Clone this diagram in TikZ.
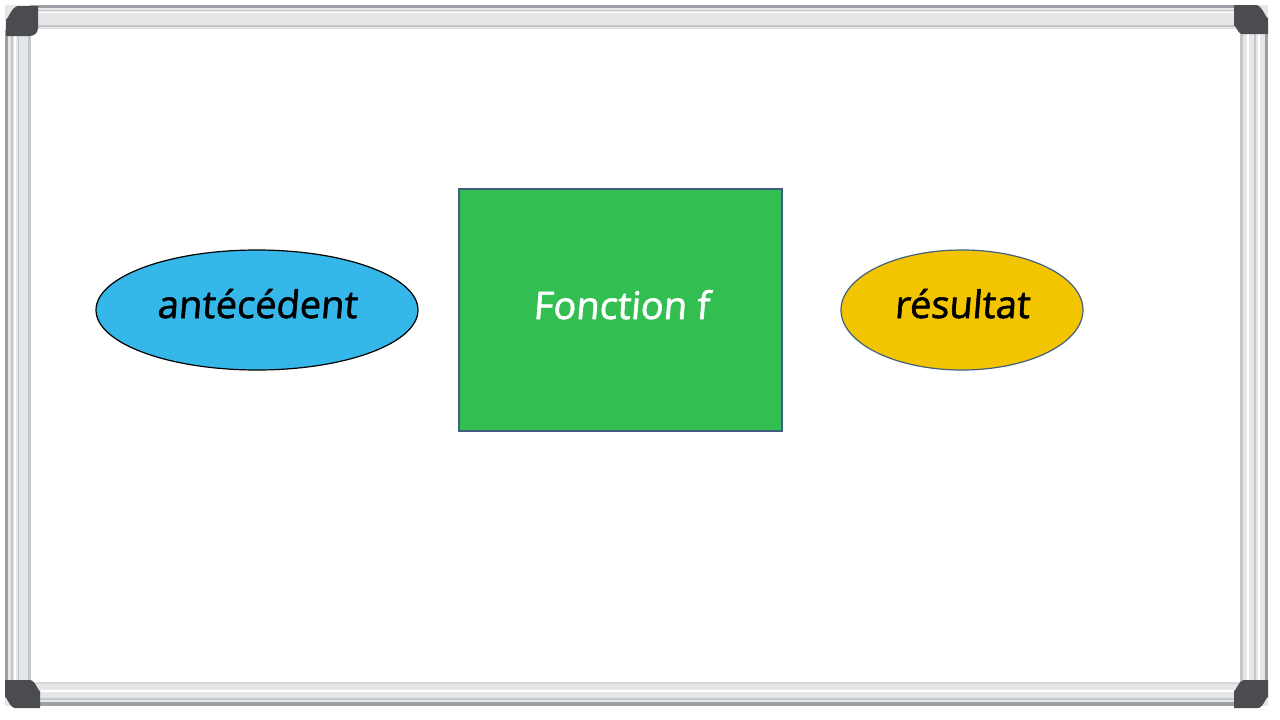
\documentclass[tikz,border=0pt]{standalone}
\usepackage{fontspec}
\setmainfont{Open Sans}
\newfontfamily\handfont[FakeBold=1.6,FakeSlant=0.08]{Open Sans}
\usetikzlibrary{shapes.geometric}
\definecolor{skyb}{HTML}{36B7E9}
\definecolor{fgreen}{HTML}{33BE52}
\definecolor{gold}{HTML}{F2C500}
\definecolor{edgeb}{HTML}{41607F}
\definecolor{barlight}{HTML}{E4E6E8}
\definecolor{barmid}{HTML}{C4C7CA}
\definecolor{bardark}{HTML}{9C9FA3}
\definecolor{capc}{HTML}{4A4C4F}
\tikzset{
  lbl/.style={font=\handfont\fontsize{38}{42}\selectfont, inner sep=0pt},
  blob/.style={ellipse, inner sep=0pt, line width=1.2pt},
  hbar/.style={fill=barlight, draw=none},
  capshape/.style={fill=capc, draw=none}
}
\begin{document}
\begin{tikzpicture}[x=1pt,y=-1pt]
\useasboundingbox (0,0) rectangle (1280,720);
\fill[white] (0,0) rectangle (1280,720);
% frame bars
\fill[hbar] (5,5) rectangle (1268,29);
\fill[hbar] (5,682) rectangle (1268,706);
\fill[hbar] (5,5) rectangle (31,706);
\fill[hbar] (1240,5) rectangle (1268,706);
% top bar detail
\fill[bardark] (30,5) rectangle (1240,8);
\fill[barmid] (30,10) rectangle (1240,11);
\fill[white] (30,12) rectangle (1240,13);
\fill[barmid] (30,25) rectangle (1240,27);
\fill[barmid!60] (30,28) rectangle (1240,29);
% bottom bar detail
\fill[barmid!70] (30,682) rectangle (1240,684);
\fill[white] (30,690) rectangle (1240,692);
\fill[barmid] (30,698) rectangle (1240,700);
\fill[bardark] (30,702) rectangle (1240,706);
% left bar detail
\fill[bardark] (5,30) rectangle (8,682);
\fill[barmid] (11,30) rectangle (13,682);
\fill[white] (14,30) rectangle (16,682);
\fill[barmid] (18,30) rectangle (19,682);
\fill[barmid] (28,30) rectangle (31,682);
% right bar detail
\fill[barmid] (1240,30) rectangle (1243,682);
\fill[white] (1247,30) rectangle (1249,682);
\fill[barmid] (1254,30) rectangle (1256,682);
\fill[white] (1258,30) rectangle (1260,682);
\fill[bardark] (1265,30) rectangle (1268,682);
% corner caps
\fill[capshape] (6,36) -- (6,18) to[out=-90,in=180] (18,6) -- (38,6) -- (38,28) to[out=-90,in=0] (30,36) -- cycle;
\fill[capshape] (1268,34) -- (1268,17) to[out=-90,in=0] (1256,5) -- (1234,5) -- (1234,26) to[out=90,in=180] (1242,34) -- cycle;
\fill[capshape] (5,680) -- (5,698) to[out=90,in=180] (15,708) -- (40,708) -- (40,690) to[out=-90,in=0] (30,680) -- cycle;
\fill[capshape] (1268,680) -- (1268,698) to[out=90,in=0] (1258,708) -- (1234,708) -- (1234,690) to[out=-90,in=180] (1244,680) -- cycle;
% diagram
\node[blob, fill=skyb, draw=black, minimum width=322pt, minimum height=120pt] (ante) at (257,310) {};
\node[lbl, anchor=base] (antel) at (257,318) {antécédent};
\node[rectangle, fill=fgreen, draw=edgeb, line width=1.2pt, minimum width=323pt, minimum height=242pt, inner sep=0pt] (fonc) at (620.5,310) {};
\node[lbl, text=white, anchor=base] (foncl) at (621,319) {Fonction f};
\node[blob, fill=gold, draw=edgeb, minimum width=242pt, minimum height=120pt] (res) at (962,310) {};
\node[lbl, anchor=base] (resl) at (962,318) {résultat};
\end{tikzpicture}
\end{document}
